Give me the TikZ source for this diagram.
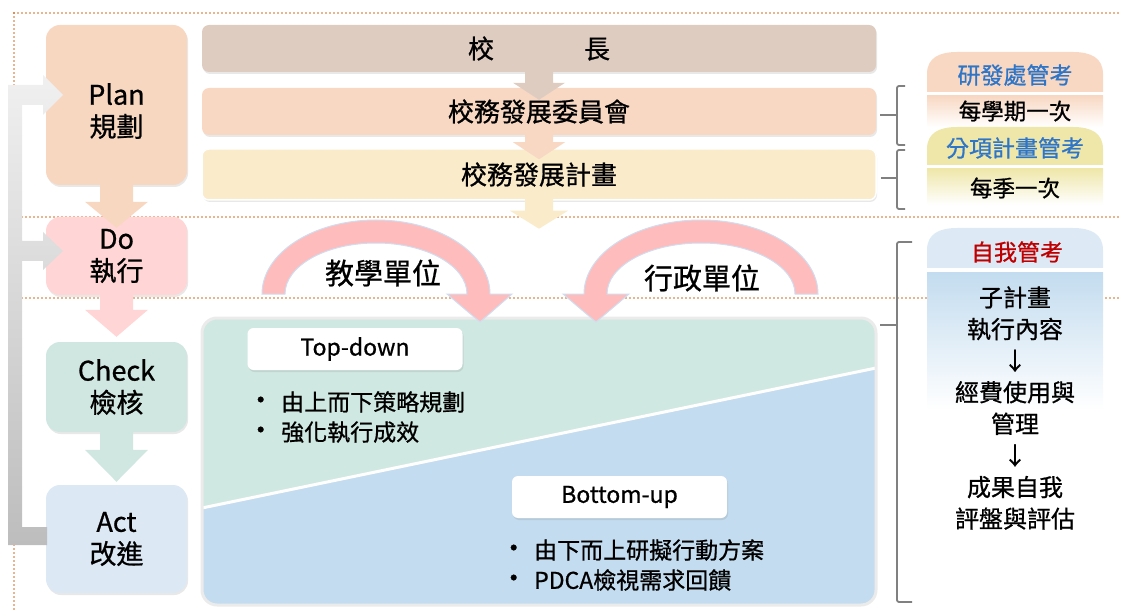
\documentclass[tikz,border=0pt]{standalone}
\usepackage{fontspec}
\setmainfont{Noto Sans CJK TC}[UprightFeatures={FakeBold=0.8}]
\usetikzlibrary{positioning, calc, shadows}

\definecolor{plancol}{HTML}{F8D7C1}
\definecolor{docol}{HTML}{FFD5D5}
\definecolor{checkcol}{HTML}{D0E7E1}
\definecolor{actcol}{HTML}{DCE8F4}
\definecolor{chiefcol}{HTML}{DFCCC0}
\definecolor{committeecol}{HTML}{F8D8C3}
\definecolor{devcol}{HTML}{FAEBCB}
\definecolor{turncol}{HTML}{FFBCBC}
\definecolor{turnrim}{HTML}{CFDDF0}
\definecolor{topdowncol}{HTML}{D0E8E2}
\definecolor{bottomupcol}{HTML}{C3DCEF}
\definecolor{panelrim}{HTML}{EBEBEB}
\definecolor{guidecol}{HTML}{D2691E}
\definecolor{bracecol}{HTML}{808080}
\definecolor{fbtop}{HTML}{F0F0F0}
\definecolor{fbbottom}{HTML}{BDBDBD}
\definecolor{rdcol}{HTML}{F8D8C3}
\definecolor{itemcol}{HTML}{EFE7AA}
\definecolor{selfcol}{HTML}{DDEAF6}
\definecolor{selfgrad}{HTML}{C3DCEF}
\definecolor{reviewblue}{HTML}{2E75C8}
\definecolor{selfred}{HTML}{C00000}

\tikzset{
  shade box/.style={drop shadow={opacity=.18, shadow xshift=1pt, shadow yshift=-2pt}},
  phase text/.style={inner sep=0pt, align=center, font=\fontsize{27}{32}\selectfont},
  phase/.style={phase text, shade box, rounded corners=14pt, minimum width=141pt},
  bar/.style={shade box, rounded corners=7pt, minimum width=674pt, minimum height=47pt,
    inner sep=0pt, font=\fontsize{26}{30}\selectfont},
  guide/.style={draw=guidecol, line width=1.6pt, dash pattern=on 0pt off 4pt, line cap=round},
  brace/.style={draw=bracecol, line width=1.8pt, rounded corners=2pt},
  turn/.style={fill=turncol, draw=turnrim, line width=1pt},
  unit/.style={inner sep=0pt, font=\fontsize{29}{32}\selectfont},
  tag box/.style={shade box, fill=white, rounded corners=6pt, minimum width=215pt,
    minimum height=42pt, inner sep=0pt, font=\fontsize{23}{26}\selectfont},
  points/.style={anchor=west, align=left, inner sep=0pt, font=\fontsize{23}{30}\selectfont},
  review/.style={inner sep=0pt, font=\fontsize{23}{26}\selectfont},
  freq/.style={inner sep=0pt, font=\fontsize{22.5}{24}\selectfont},
  steps/.style={inner sep=0pt, align=center, font=\fontsize{24}{31.6}\selectfont}
}

% block arrow pointing down: colour, from, tip, stem half width, head half width, head length
\newcommand{\blockdown}[6]{%
  \fill[#1] let \p1=(#2), \p2=(#3) in
    (\x1-#4pt,\y1) -- (\x1+#4pt,\y1) -- (\x1+#4pt,\y2+#6pt) -- (\x1+#5pt,\y2+#6pt)
    -- (\x1,\y2) -- (\x1-#5pt,\y2+#6pt) -- (\x1-#4pt,\y2+#6pt) -- cycle;}

% tab with round top: colour, x1, y1, x2, y2
\newcommand{\tabfill}[5]{%
  \fill[#1] (#2,#5) -- (#2,#3+22) .. controls (#2,#3+6) and (#2+12,#3) .. (#2+30,#3)
    -- (#4-30,#3) .. controls (#4-12,#3) and (#4,#3+6) .. (#4,#3+22) -- (#4,#5) -- cycle;}

\newcommand{\dotmark}{\raisebox{1pt}{\fontsize{27}{27}\selectfont •}\hspace{7pt}}

\begin{document}
\begin{tikzpicture}[x=1pt, y=-1pt, on grid]
  \useasboundingbox (0,0) rectangle (1121,612);

  % dotted guide lines
  \draw[guide] (14,13) -- (1121,13);
  \draw[guide] (14,13) -- (14,85);
  \draw[guide] (14,545) -- (14,612);
  \draw[guide] (22,217) -- (1121,217);
  \draw[guide] (22,298) -- (1121,298);

  % lower panel
  \begin{scope}
    \path[clip, rounded corners=15pt] (202,318) rectangle (876,605);
    \fill[topdowncol] (202,318) rectangle (876,605);
    \fill[bottomupcol] (202,508) -- (876,368) -- (876,605) -- (202,605) -- cycle;
    \draw[white, line width=3pt] (202,508) -- (876,368);
  \end{scope}
  \draw[panelrim, line width=3pt, rounded corners=15pt] (202,318) rectangle (876,605);

  % curved arrows
  \filldraw[turn] (262,294) .. controls (262,253.1) and (313,220) .. (376,220)
    .. controls (439,220) and (490,253.1) .. (490,294) -- (512,294) -- (480,322)
    -- (447,294) -- (467,294) .. controls (467,265.8) and (426.3,243) .. (376,243)
    .. controls (325.7,243) and (285,265.8) .. (285,294) -- cycle;
  \filldraw[turn] (818,294) .. controls (818,253.1) and (765.6,220) .. (701,220)
    .. controls (636.4,220) and (584,253.1) .. (584,294) -- (563,294) -- (596,322)
    -- (629,294) -- (607,294) .. controls (607,265.8) and (649.1,243) .. (701,243)
    .. controls (752.9,243) and (795,265.8) .. (795,294) -- cycle;
  \node[unit] (teach) at (383,273) {教學單位};
  \node[unit] (admin) at (702,278) {行政單位};

  \node[tag box] (topdown) at (355,349) {Top-down};
  \node[points] (topdownpts) at (247,417) {\dotmark 由上而下策略規劃\\\dotmark 強化執行成效};
  \node[tag box] (bottomup) at (619.5,497) {Bottom-up};
  \node[points] (bottomuppts) at (500,565) {\dotmark 由下而上研擬行動方案\\\dotmark PDCA檢視需求回饋};

  % PDCA column
  \node[phase, fill=plancol, minimum height=160pt] (plan) at (116.5,105) {};
  \node[phase text] (plantext) at ([yshift=-6pt]plan.center) {Plan\\規劃};
  \node[phase, fill=docol, minimum height=78pt, below=151pt of plan] (do) {Do\\執行};
  \node[phase, fill=checkcol, minimum height=90pt, below=131pt of do] (check) {Check\\檢核};
  \node[phase, fill=actcol, minimum height=108pt, below=152pt of check] (act) {Act\\改進};
  \blockdown{plancol}{[yshift=2pt]plan.south}{[yshift=-11pt]do.north}{16.5}{31.5}{26}
  \blockdown{docol}{[yshift=2pt]do.south}{[yshift=5pt]check.north}{16.5}{31.5}{27}
  \blockdown{checkcol}{[yshift=2pt]check.south}{[yshift=3pt]act.north}{16.5}{31.5}{32}

  % feedback arrow
  \shade[top color=fbtop, bottom color=fbbottom] (8,545) -- (8,85) -- (43,85) -- (43,75)
    -- (63,95) -- (43,115) -- (43,105) -- (22,105) -- (22,241) -- (43,241) -- (43,232)
    -- (63,251) -- (43,270) -- (43,261) -- (22,261) -- (22,527) -- (47,527) -- (47,545) -- cycle;

  % top bars
  \node[bar, fill=chiefcol] (chief) at (539,48.5) {校\hspace{90pt}長};
  \node[bar, fill=committeecol, below=63pt of chief] (committee) {校務發展委員會};
  \node[bar, fill=devcol, draw=white, line width=1.5pt, minimum height=51pt,
    below=63pt of committee] (devplan) {校務發展計畫};
  \blockdown{chiefcol}{[yshift=2pt]chief.south}{[yshift=-12pt]committee.north}{14}{26}{17}
  \blockdown{committeecol}{[yshift=2pt]committee.south}{[yshift=-11pt]devplan.north}{14}{26}{17}
  \blockdown{devcol}{[yshift=2pt]devplan.south}{[yshift=-28pt]devplan.south}{14}{29}{18}

  % reviews
  \tabfill{rdcol}{927}{52}{1103}{92}
  \node[review, text=reviewblue] (rdreview) at (1015,75) {研發處管考};
  \shade[top color=rdcol, bottom color=white] (927,96) rectangle (1103,127);
  \node[freq] (semester) at (1015,111) {每學期一次};
  \tabfill{itemcol}{927}{127}{1103}{165}
  \node[review, text=reviewblue] (itemreview) at (1015,148) {分項計畫管考};
  \shade[top color=itemcol, bottom color=white] (927,169) rectangle (1103,205);
  \node[freq] (season) at (1015,188) {每季一次};
  \tabfill{selfcol}{927}{228}{1103}{268}
  \node[review, text=selfred] (selfreview) at (1017,252) {自我管考};
  \shade[top color=selfgrad, bottom color=white] (927,273) rectangle (1103,410);
  \node[steps] (selfsteps) at (1015,408) {子計畫\\執行內容\\↓\\經費使用與\\管理\\↓\\成果自我\\評盤與評估};

  % braces
  \draw[brace] (905,86) -- (897,86) -- (897,145) -- (905,145);
  \draw[brace] ([xshift=4pt]committee.east |- 0,115) -- (897,115);
  \draw[brace] (905,150) -- (897,150) -- (897,209) -- (905,209);
  \draw[brace] ([xshift=4pt]devplan.east |- 0,178) -- (897,178);
  \draw[brace] (912,242) -- (897,242) -- (897,602) -- (912,602);
  \draw[brace] (880,325) -- (897,325);
\end{tikzpicture}
\end{document}
